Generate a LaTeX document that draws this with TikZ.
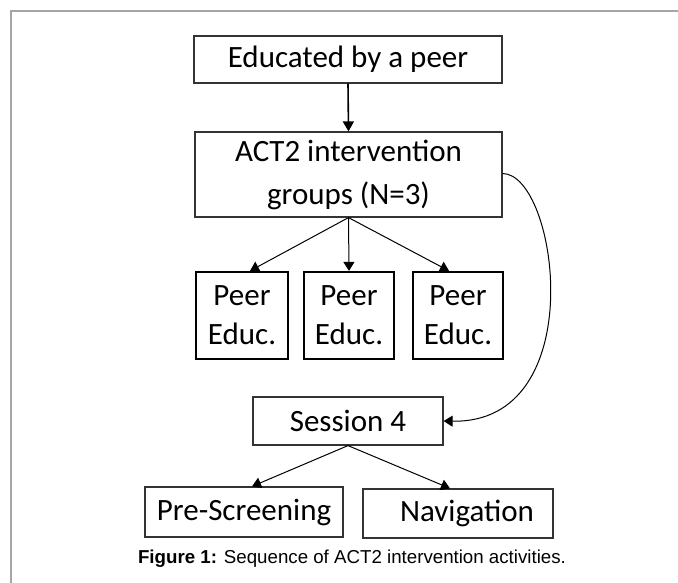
\documentclass[tikz,border=0pt]{standalone}
\usepackage{fontspec}
\setmainfont{Carlito}
\newfontfamily\capfont{Liberation Sans}
\usetikzlibrary{arrows.meta,calc}
\definecolor{framegrey}{HTML}{A6A6A6}
\definecolor{boxline}{HTML}{333333}
\tikzset{
  thinbox/.style={draw=boxline, line width=1.2pt, inner sep=0pt, align=center,
    font=\fontsize{31}{43}\selectfont},
  peerbox/.style={draw=black, line width=2.2pt, inner sep=0pt, align=center,
    minimum width=90pt, minimum height=87pt, font=\fontsize{31}{39}\selectfont},
  arr/.style={line width=1pt, -{Triangle[width=11pt,length=9pt]}},
  thickarr/.style={line width=1.6pt, -{Triangle[width=11pt,length=10pt]}}
}
\begin{document}
\begin{tikzpicture}[x=1pt,y=-1pt]
\useasboundingbox (0,0) rectangle (678,583);
\fill[white] (0,0) rectangle (678,583);
\draw[framegrey, line width=1.6pt] (11,583) -- (11,11) -- (678,11);

\node[thinbox, minimum width=308pt, minimum height=47pt] (edu) at (348,59.5) {Educated by a peer};
\node[thinbox, minimum width=307pt, minimum height=85pt] (act) at (348.5,174.5) {ACT2 intervention\\groups (N=3)};
\node[peerbox, minimum width=92pt] (pa) at (242,315.5) {Peer\\Educ.};
\node[peerbox] (pb) at (349,315.5) {Peer\\Educ.};
\node[peerbox] (pc) at (458,315.5) {Peer\\Educ.};
\node[thinbox, minimum width=190pt, minimum height=48pt] (ses) at (348,421) {Session 4};
\node[thinbox, minimum width=198pt, minimum height=50pt] (pre) at (244,512) {Pre-Screening};
\node[thinbox, minimum width=190pt, minimum height=49pt] (nav) at (458,513.5) {\hspace*{18pt}Navigation};

\node[font=\capfont\fontsize{18.7}{21}\selectfont, anchor=base] (cap) at (352,563)
  {\textbf{Figure 1:} Sequence of ACT2 intervention activities.};

\draw[thickarr] (edu.south) -- (act.north);
\draw[arr] (act.south) -- ($(pa.north)+(8,0)$);
\draw[arr] (act.south) -- (pb.north);
\draw[arr] (act.south) -- ($(pc.north)+(-9,0)$);
\draw[arr] (act.east) ++(0,-1) .. controls (558,174) and (592,424) .. (ses.east);
\draw[arr] (ses.south) -- ($(pre.north)+(8,0)$);
\draw[arr] (ses.south) -- ($(nav.north)+(-8,0)$);
\end{tikzpicture}
\end{document}
